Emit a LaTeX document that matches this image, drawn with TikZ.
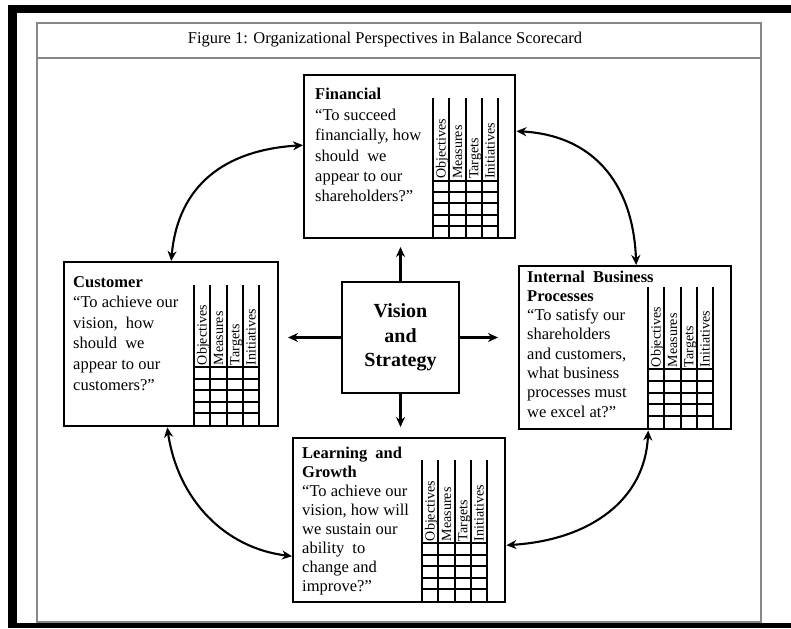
\documentclass[tikz,border=0pt]{standalone}
\usepackage{fontspec}
\setmainfont{Liberation Serif}
\usetikzlibrary{arrows.meta}
\definecolor{framegray}{RGB}{135,135,135}
\tikzset{
  boxnode/.style={draw, line width=2.4pt, rectangle, inner sep=0pt, anchor=north west},
  gridline/.style={line width=2.1pt},
  collab/.style={rotate=90, anchor=base west, inner sep=0pt, font=\fontsize{14}{14}\selectfont},
  txt/.style={inner sep=0pt, anchor=base west},
  dbl/.style={line width=2.1pt, {Stealth[length=10pt,width=9pt]}-{Stealth[length=10pt,width=9pt]}},
  sgl/.style={line width=2.1pt, -{Stealth[length=10pt,width=9pt]}},
  frameline/.style={draw=framegray, line width=1.5pt}
}
% #1 x0, #2 ytop, #3 yhead, #4 ybot, #5 rows, #6 last row index, #7 prefix
\newcommand\scoregrid[7]{%
  \foreach \i in {0,...,4}{\draw[gridline] ({#1+\i*16.3},#2) -- ({#1+\i*16.3},#4);}
  \foreach \j in {0,...,#6}{\draw[gridline] (#1,{#3+\j*(#4-#3)/#5}) -- ({#1+65.2},{#3+\j*(#4-#3)/#5});}
  \foreach \lab [count=\k] in {Objectives,Measures,Targets,Initiatives}{
    \node[collab] (#7\k) at ({#1+\k*16.3-3.6},{#3-1.8}) {\lab};}
}
\newcommand\boxtext[2]{\parbox[t]{130pt}{\raggedright\fontsize{16.5}{#1}\selectfont #2}}
\begin{document}
\begin{tikzpicture}[x=1pt,y=-1pt]
\useasboundingbox (0,0) rectangle (791,628);
% outer black frame
\fill[black] (8,5) rectangle (791,13);
\fill[black] (8,5) rectangle (17,628);
\fill[black] (8,623) rectangle (791,628);
% inner gray frame
\draw[frameline] (37,23) rectangle (761,622);
\draw[frameline] (37,58) -- (761,58);
\node[inner sep=0pt, anchor=base, font=\fontsize{16.5}{20}\selectfont] (title) at (385,44)
  {Figure 1: Organizational Perspectives in Balance Scorecard};

% boxes
\node[boxnode, minimum width=211pt, minimum height=163pt] (fin) at (303,74) {};
\node[boxnode, minimum width=214pt, minimum height=164pt] (cus) at (63,261) {};
\node[boxnode, minimum width=212pt, minimum height=163pt] (ibp) at (518,265) {};
\node[boxnode, minimum width=212pt, minimum height=164pt] (lrn) at (292,437) {};
\node[draw, line width=2.4pt, rectangle, inner sep=0pt, minimum width=117pt, minimum height=111pt,
      align=center, font=\fontsize{20}{24.5}\selectfont\bfseries] (vis) at (400.5,337.5)
  {Vision\\and\\Strategy};

% grids
\scoregrid{433}{98}{181}{237}{5}{4}{fl}
\scoregrid{194}{285}{367}{425}{5}{4}{cl}
\scoregrid{648}{287}{369}{428}{5}{4}{il}
\scoregrid{422}{460}{543}{601}{5}{4}{ll}

% texts
\node[txt] (fint) at (315,100) {\boxtext{20.4}{\textbf{Financial}\\“To succeed\\financially, how\\should\hspace{4pt} we\\appear to our\\shareholders?”}};
\node[txt] (cust) at (73,287) {\boxtext{20.6}{\textbf{Customer}\\“To achieve our\\vision,\hspace{4pt} how\\should\hspace{4pt} we\\appear to our\\customers?”}};
\node[txt] (ibpt) at (527,282) {\boxtext{19.3}{\textbf{Internal\hspace{4pt} Business}\\\textbf{Processes}\\“To satisfy our\\shareholders\\and customers,\\what business\\processes must\\we excel at?”}};
\node[txt] (lrnt) at (302,458) {\boxtext{19.1}{\textbf{Learning\hspace{4pt} and}\\\textbf{Growth}\\“To achieve our\\vision, how will\\we sustain our\\ability\hspace{4pt} to\\change and\\improve?”}};

% vision arrows
\coordinate (vu) at (400.5,247);
\coordinate (vr) at (498,337.5);
\coordinate (vl) at (288,337.5);
\coordinate (vd) at (400.5,427);
\draw[sgl] (vis.north) -- (vu);
\draw[sgl] (vis.east) -- (vr);
\draw[sgl] (vis.west) -- (vl);
\draw[sgl] (vis.south) -- (vd);

% curved double arrows
\draw[dbl] (cus.north) .. controls (178,185) and (225,150) .. ([yshift=11.5pt]fin.west);
\draw[dbl] ([yshift=25.5pt]fin.east) .. controls (590,135) and (633,180) .. ([xshift=11pt]ibp.north);
\draw[dbl] ([xshift=23pt]ibp.south) .. controls (645,500) and (590,540) .. ([yshift=-25pt]lrn.east);
\draw[dbl] ([xshift=-4pt]cus.south) .. controls (178,500) and (225,548) .. ([yshift=-36pt]lrn.west);
\end{tikzpicture}
\end{document}
